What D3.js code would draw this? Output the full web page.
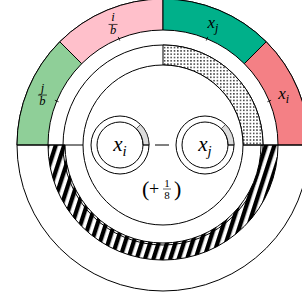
<!DOCTYPE html>
<html>
<head>
<meta charset="utf-8">
<script src="https://cdn.jsdelivr.net/npm/d3@7"></script>
<style>
  html, body { margin: 0; padding: 0; background: #fff; }
  svg { display: block; }
  text { font-family: "Liberation Serif", "DejaVu Serif", serif; fill: #000; }
  text.math { font-style: italic; }
</style>
</head>
<body>
<div id="root"></div>
<script>
const width = 302;
const height = 301;

// Data

const segmentNums = ['j', 'i', 'x', 'x'];
const segmentDens = ['b', 'b', 'j', 'i']; // fraction denominators, or subscripts for x
const segmentIsFrac = [true, true, false, false];
const segmentShares = [1, 1, 1, 1];
const segmentColors = ['#8fcf98', '#ffc0cb', '#00b08a', '#f48085'];

const nodeSubs = ['i', 'j'];
const nodeShaded = [1 / 8, 1 / 8];

const dottedSpan = [0, 1 / 4]; // fraction of full turn, clockwise from top
const hatchedSpan = [1 / 4, 3 / 4];

const extraNum = '1';
const extraDen = '8';

// Layout

const cx = 163;
const cy = 145;
const rOuter = 146;
const rRing = 115;
const rMid = 100;
const rHatchIn = 98;
const rInner = 80;
const nodeR = 29;
const nodeRIn = 23;
const TAU = Math.PI * 2;

const svg = d3
  .select('#root')
  .append('svg')
  .attr('width', width)
  .attr('height', height);

// Patterns

const defs = svg.append('defs');

const hatch = defs
  .append('pattern')
  .attr('id', 'hatch')
  .attr('patternUnits', 'userSpaceOnUse')
  .attr('width', 8)
  .attr('height', 8)
  .attr('patternTransform', 'rotate(18)');
hatch.append('rect').attr('width', 8).attr('height', 8).attr('fill', '#fff');
hatch.append('rect').attr('width', 4.3).attr('height', 8).attr('fill', '#000');

const dots = defs
  .append('pattern')
  .attr('id', 'dots')
  .attr('patternUnits', 'userSpaceOnUse')
  .attr('width', 3.3)
  .attr('height', 3.3);
dots.append('rect').attr('width', 3.3).attr('height', 3.3).attr('fill', '#fff');
dots.append('circle').attr('cx', 1.6).attr('cy', 1.6).attr('r', 0.75).attr('fill', '#000');

const g = svg.append('g').attr('transform', `translate(${cx},${cy})`);

const arc = d3.arc();

// Outer circle
g.append('circle').attr('r', rOuter).attr('fill', '#fff').attr('stroke', '#000').attr('stroke-width', 1);

// Top segments
const pie = d3
  .pie()
  .sort(null)
  .startAngle(-Math.PI / 2)
  .endAngle(Math.PI / 2);
const slices = pie(segmentShares);

g.selectAll('path.seg')
  .data(slices)
  .join('path')
  .attr('class', 'seg')
  .attr('d', (d) => arc({ innerRadius: rRing, outerRadius: rOuter, startAngle: d.startAngle, endAngle: d.endAngle }))
  .attr('fill', (d, i) => segmentColors[i])
  .attr('stroke', '#000')
  .attr('stroke-width', 1);

// Hatched band
g.append('path')
  .attr('d', arc({ innerRadius: rHatchIn, outerRadius: rRing, startAngle: hatchedSpan[0] * TAU, endAngle: hatchedSpan[1] * TAU }))
  .attr('fill', 'url(#hatch)')
  .attr('stroke', '#000')
  .attr('stroke-width', 1);

// Middle circle
g.append('circle').attr('r', rMid).attr('fill', 'none').attr('stroke', '#000').attr('stroke-width', 1);

// Dotted band
g.append('path')
  .attr('d', arc({ innerRadius: rInner, outerRadius: rMid, startAngle: dottedSpan[0] * TAU, endAngle: dottedSpan[1] * TAU }))
  .attr('fill', 'url(#dots)')
  .attr('stroke', '#000')
  .attr('stroke-width', 1);

// Inner circle
g.append('circle').attr('r', rInner).attr('fill', '#fff').attr('stroke', '#000').attr('stroke-width', 1);

// Horizontal diameter pieces outside inner circle
[-1, 1].forEach((s) => {
  g.append('line')
    .attr('x1', s * rInner)
    .attr('x2', s * rOuter)
    .attr('y1', 0)
    .attr('y2', 0)
    .attr('stroke', '#000');
});

// Ticks on inner edge of top segments
slices.forEach((d) => {
  const a = (d.startAngle + d.endAngle) / 2;
  const sx = Math.sin(a);
  const sy = -Math.cos(a);
  g.append('line')
    .attr('x1', sx * (rRing - 2))
    .attr('y1', sy * (rRing - 2))
    .attr('x2', sx * (rRing + 2))
    .attr('y2', sy * (rRing + 2))
    .attr('stroke', '#000')
    .attr('stroke-width', 0.8);
});

// Segment labels
function fracLabel(sel, x, y, num, den, size) {
  sel.append('text').attr('class', 'math').attr('x', x).attr('y', y - 3).attr('text-anchor', 'middle').attr('font-size', size).text(num);
  sel.append('line')
    .attr('x1', x - 4.5)
    .attr('x2', x + 4.5)
    .attr('y1', y)
    .attr('y2', y)
    .attr('stroke', '#000')
    .attr('stroke-width', 0.7);
  sel.append('text').attr('class', 'math').attr('x', x).attr('y', y + 10).attr('text-anchor', 'middle').attr('font-size', size).text(den);
}

function subLabel(sel, x, y, base, sub, size) {
  const t = sel.append('text').attr('class', 'math').attr('x', x).attr('y', y).attr('text-anchor', 'middle').attr('font-size', size);
  t.append('tspan').text(base);
  t.append('tspan').attr('font-size', size * 0.7).attr('dy', size * 0.22).text(sub);
}

const labelR = (rRing + rOuter) / 2;
slices.forEach((d, i) => {
  const a = (d.startAngle + d.endAngle) / 2;
  const x = Math.sin(a) * labelR;
  const y = -Math.cos(a) * labelR;
  if (segmentIsFrac[i]) {
    fracLabel(g, x, y, segmentNums[i], segmentDens[i], 12.5);
  } else {
    subLabel(g, x, y + 4, segmentNums[i], segmentDens[i], 17);
  }
});

// Nodes
const nodeX = d3.scalePoint().domain(nodeSubs).range([120 - cx, 205 - cx]);

nodeSubs.forEach((s, i) => {
  const ng = g.append('g').attr('transform', `translate(${nodeX(s)},0)`);
  ng.append('circle').attr('r', nodeR).attr('fill', '#fff').attr('stroke', '#000');
  ng.append('path')
    .attr('d', arc({ innerRadius: nodeRIn, outerRadius: nodeR, startAngle: TAU / 4 - nodeShaded[i] * TAU, endAngle: TAU / 4 }))
    .attr('fill', '#dcdcdc')
    .attr('stroke', '#000')
    .attr('stroke-width', 0.6);
  ng.append('circle').attr('r', nodeRIn).attr('fill', 'none').attr('stroke', '#000');
  ng.append('line').attr('x1', nodeRIn).attr('x2', nodeR).attr('y1', 0).attr('y2', 0).attr('stroke', '#000');
  subLabel(ng, 0, 6, 'x', s, 21);
});

// Edge between nodes
g.append('line')
  .attr('x1', nodeX(nodeSubs[0]) + nodeR + 6)
  .attr('x2', nodeX(nodeSubs[1]) - nodeR - 7)
  .attr('y1', 0)
  .attr('y2', 0)
  .attr('stroke', '#000');

// (+1/8)
const ex = g.append('g').attr('transform', 'translate(-2,44)');
ex.append('text').attr('x', -19).attr('y', 7).attr('font-size', 22).text('(');
ex.append('text').attr('x', -12).attr('y', 5.5).attr('font-size', 18).text('+');
ex.append('text').attr('x', 6).attr('y', -2).attr('text-anchor', 'middle').attr('font-size', 11).text(extraNum);
ex.append('line').attr('x1', 2).attr('x2', 10).attr('y1', 0).attr('y2', 0).attr('stroke', '#000').attr('stroke-width', 0.6);
ex.append('text').attr('x', 6).attr('y', 10).attr('text-anchor', 'middle').attr('font-size', 11).text(extraDen);
ex.append('text').attr('x', 13).attr('y', 7).attr('font-size', 22).text(')');
</script>
</body>
</html>
